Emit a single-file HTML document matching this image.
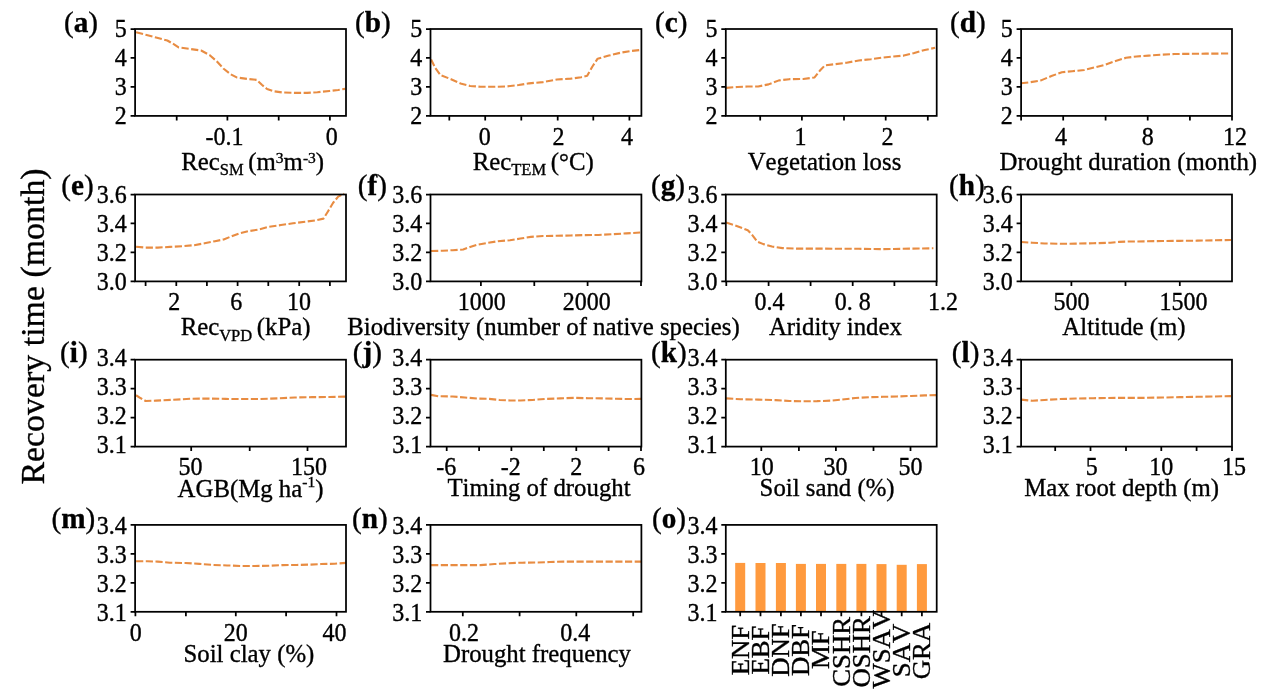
<!DOCTYPE html>
<html lang="en">
<head>
<meta charset="utf-8">
<title>Partial dependence of recovery time on drivers</title>
<style>
html,body{margin:0;padding:0;background:#fff;}
body{width:1268px;height:696px;overflow:hidden;font-family:"Liberation Serif","Times New Roman",serif;}
svg{display:block;font-kerning:none;}
svg text{stroke:#000;stroke-width:.35px;stroke-linejoin:round;}
</style>
</head>
<body>
<svg width="1268" height="696" viewBox="0 0 1268 696" font-family="'Liberation Serif', 'Times New Roman', serif" fill="#000">
<rect width="1268" height="696" fill="#fff"/>
<text transform="translate(43.9,326.5) rotate(-90)" text-anchor="middle" font-size="33.9">Recovery time (month)</text>
<g id="panel-a">
<path d="M136.07 32.33 L145.61 34.76 L156.02 37.53 L167.3 40.48 L172.51 43.43 L178.58 47.42 L188.99 48.81 L201.13 50.54 L209.81 55.23 L216.75 61.3 L223.68 68.76 L230.62 74.31 L236.7 77.44 L247.97 79 L256.65 79.86 L261.85 84.72 L267.06 89.06 L274 91.31 L282.67 92.53 L294.82 92.88 L306.96 92.88 L317.37 92.18 L329.51 90.97 L338.19 89.93 L345.13 88.89" fill="none" stroke="#e88c42" stroke-width="2.1" stroke-dasharray="7.2 2.5" stroke-linejoin="round"/>
<path d="M135.1 115.9h-4.5M135.1 86.93h-4.5M135.1 57.97h-4.5M135.1 29h-4.5M176.7 115.9v4.5M227.4 115.9v4.5M278.7 115.9v4.5M329.9 115.9v4.5" stroke="#000" stroke-width="1.75" fill="none"/>
<rect x="135.1" y="29" width="210.9" height="86.9" fill="none" stroke="#000" stroke-width="1.75"/>
<g font-size="24" text-anchor="end">
<text transform="translate(126.8 124.3) scale(1 1.04)">2</text>
<text transform="translate(126.8 95.33) scale(1 1.04)">3</text>
<text transform="translate(126.8 66.37) scale(1 1.04)">4</text>
<text transform="translate(126.8 37.4) scale(1 1.04)">5</text>
</g>
<g font-size="24" text-anchor="middle">
<text transform="translate(224.4 145.05) scale(1 1.04)">-0.1</text>
<text transform="translate(331.7 145.05) scale(1 1.04)">0</text>
</g>
<text x="252.7" y="169.9" font-size="24.8" text-anchor="middle">Rec<tspan dy="5.5" font-size="16.5">SM</tspan><tspan dy="-5.5" dx="-1.6"> (m</tspan><tspan dy="-7.3" font-size="15.5">3</tspan><tspan dy="7.3">m</tspan><tspan dy="-7.3" font-size="15.5">-3</tspan><tspan dy="7.3">)</tspan></text>
<text x="64" y="31.5" font-size="29.2">(<tspan font-weight="bold">a</tspan>)</text>
</g>
<g id="panel-b">
<path d="M431.07 59.57 L435.41 68.24 L440.61 75.18 L451.02 79.17 L461.43 83.85 L470.11 85.94 L480.52 86.8 L494.4 86.8 L506.54 86.46 L518.68 85.07 L529.09 83.33 L542.97 82.12 L556.85 79.52 L570.73 78.65 L581.14 77.26 L587.21 75.7 L592.42 66.51 L597.62 58.7 L608.9 55.58 L621.04 52.63 L631.45 50.89 L640.13 50.02" fill="none" stroke="#e88c42" stroke-width="2.1" stroke-dasharray="7.2 2.5" stroke-linejoin="round"/>
<path d="M430.5 115.9h-4.5M430.5 86.93h-4.5M430.5 57.97h-4.5M430.5 29h-4.5M449.3 115.9v4.5M485.2 115.9v4.5M521.3 115.9v4.5M557.7 115.9v4.5M593.3 115.9v4.5M629.4 115.9v4.5" stroke="#000" stroke-width="1.75" fill="none"/>
<rect x="430.5" y="29" width="210.9" height="86.9" fill="none" stroke="#000" stroke-width="1.75"/>
<g font-size="24" text-anchor="end">
<text transform="translate(422.2 124.3) scale(1 1.04)">2</text>
<text transform="translate(422.2 95.33) scale(1 1.04)">3</text>
<text transform="translate(422.2 66.37) scale(1 1.04)">4</text>
<text transform="translate(422.2 37.4) scale(1 1.04)">5</text>
</g>
<g font-size="24" text-anchor="middle">
<text transform="translate(484.7 145.05) scale(1 1.04)">0</text>
<text transform="translate(558.6 145.05) scale(1 1.04)">2</text>
<text transform="translate(627 145.05) scale(1 1.04)">4</text>
</g>
<text x="533.2" y="169.9" font-size="24.8" text-anchor="middle">Rec<tspan dy="5.5" font-size="16.5">TEM</tspan><tspan dy="-5.5" dx="-1.6"> (°C)</tspan></text>
<text x="355" y="31.5" font-size="29.2">(<tspan font-weight="bold">b</tspan>)</text>
</g>
<g id="panel-c">
<path d="M726.07 87.84 L737.35 86.98 L747.76 86.46 L758.17 86.46 L768.58 84.37 L778.99 80.38 L789.4 79.17 L803.28 79 L814.55 77.44 L819.76 70.84 L824.96 65.29 L834.5 64.25 L846.65 62.69 L858.79 60.43 L870.94 59.22 L883.08 57.48 L893.49 56.44 L903.9 55.58 L914.31 52.97 L924.72 50.02 L935.13 47.77" fill="none" stroke="#e88c42" stroke-width="2.1" stroke-dasharray="7.2 2.5" stroke-linejoin="round"/>
<path d="M725.8 115.9h-4.5M725.8 86.93h-4.5M725.8 57.97h-4.5M725.8 29h-4.5M760.2 115.9v4.5M801.9 115.9v4.5M844 115.9v4.5M885.7 115.9v4.5M927.8 115.9v4.5" stroke="#000" stroke-width="1.75" fill="none"/>
<rect x="725.8" y="29" width="210.9" height="86.9" fill="none" stroke="#000" stroke-width="1.75"/>
<g font-size="24" text-anchor="end">
<text transform="translate(717.5 124.3) scale(1 1.04)">2</text>
<text transform="translate(717.5 95.33) scale(1 1.04)">3</text>
<text transform="translate(717.5 66.37) scale(1 1.04)">4</text>
<text transform="translate(717.5 37.4) scale(1 1.04)">5</text>
</g>
<g font-size="24" text-anchor="middle">
<text transform="translate(800.6 145.05) scale(1 1.04)">1</text>
<text transform="translate(887.4 145.05) scale(1 1.04)">2</text>
</g>
<text x="824.5" y="169.9" font-size="24.8" text-anchor="middle">Vegetation loss</text>
<text x="655" y="31.5" font-size="29.2">(<tspan font-weight="bold">c</tspan>)</text>
</g>
<g id="panel-d">
<path d="M1021.1 83.33 L1030.61 82.12 L1041.02 80.38 L1051.43 76.05 L1061.84 72.23 L1072.25 71.19 L1084.4 69.98 L1094.81 67.37 L1105.22 64.77 L1115.62 60.95 L1126.03 57.83 L1136.44 56.44 L1148.59 55.58 L1160.73 54.71 L1174.61 54.01 L1188.49 53.84 L1205.84 53.67 L1230.13 53.49" fill="none" stroke="#e88c42" stroke-width="2.1" stroke-dasharray="7.2 2.5" stroke-linejoin="round"/>
<path d="M1021.1 115.9h-4.5M1021.1 86.93h-4.5M1021.1 57.97h-4.5M1021.1 29h-4.5M1021.1 115.9v4.5M1063.2 115.9v4.5M1105.6 115.9v4.5M1147.7 115.9v4.5M1189.9 115.9v4.5M1232 115.9v4.5" stroke="#000" stroke-width="1.75" fill="none"/>
<rect x="1021.1" y="29" width="210.9" height="86.9" fill="none" stroke="#000" stroke-width="1.75"/>
<g font-size="24" text-anchor="end">
<text transform="translate(1012.8 124.3) scale(1 1.04)">2</text>
<text transform="translate(1012.8 95.33) scale(1 1.04)">3</text>
<text transform="translate(1012.8 66.37) scale(1 1.04)">4</text>
<text transform="translate(1012.8 37.4) scale(1 1.04)">5</text>
</g>
<g font-size="24" text-anchor="middle">
<text transform="translate(1060.9 145.05) scale(1 1.04)">4</text>
<text transform="translate(1147.7 145.05) scale(1 1.04)">8</text>
<text transform="translate(1235 145.05) scale(1 1.04)">12</text>
</g>
<text x="1128.3" y="169.9" font-size="24.8" text-anchor="middle">Drought duration (month)</text>
<text x="950" y="31.5" font-size="29.2">(<tspan font-weight="bold">d</tspan>)</text>
</g>
<g id="panel-e">
<path d="M136.07 246.73 L145.61 247.6 L157.76 247.6 L169.9 246.9 L182.05 246.21 L194.19 245.17 L204.6 243.26 L215.01 241.18 L223.68 239.44 L232.36 235.98 L239.3 233.37 L247.97 231.29 L258.38 229.56 L268.79 226.78 L280.94 225.05 L293.08 223.31 L305.23 221.75 L315.63 220.36 L323.44 218.63 L327.78 211.69 L332.98 203.01 L338.19 196.59 L344.26 193.82" fill="none" stroke="#e88c42" stroke-width="2.1" stroke-dasharray="7.2 2.5" stroke-linejoin="round"/>
<path d="M135.1 281.4h-4.5M135.1 252.43h-4.5M135.1 223.47h-4.5M135.1 194.5h-4.5M145.6 281.4v4.5M176.3 281.4v4.5M206.9 281.4v4.5M237.6 281.4v4.5M268.3 281.4v4.5M299.2 281.4v4.5M329.9 281.4v4.5" stroke="#000" stroke-width="1.75" fill="none"/>
<rect x="135.1" y="194.5" width="210.9" height="86.9" fill="none" stroke="#000" stroke-width="1.75"/>
<g font-size="24" text-anchor="end">
<text transform="translate(126.8 289.7) scale(1 1.04)">3.0</text>
<text transform="translate(126.8 260.73) scale(1 1.04)">3.2</text>
<text transform="translate(126.8 231.77) scale(1 1.04)">3.4</text>
<text transform="translate(126.8 202.8) scale(1 1.04)">3.6</text>
</g>
<g font-size="24" text-anchor="middle">
<text transform="translate(174.2 310.15) scale(1 1.04)">2</text>
<text transform="translate(236.3 310.15) scale(1 1.04)">6</text>
<text transform="translate(298.9 310.15) scale(1 1.04)">10</text>
</g>
<text x="245.6" y="335.4" font-size="24.8" text-anchor="middle">Rec<tspan dy="5.5" font-size="16.5">VPD</tspan><tspan dy="-5.5" dx="-1.6"> (kPa)</tspan></text>
<text x="61.3" y="194.9" font-size="29.2">(<tspan font-weight="bold">e</tspan>)</text>
</g>
<g id="panel-f">
<path d="M431.07 251.07 L442.35 250.72 L452.76 250.2 L463.17 249.51 L470.11 246.9 L477.05 244.82 L487.46 242.91 L497.87 241.18 L510.01 240.31 L520.42 238.58 L530.83 236.84 L542.97 235.98 L556.85 235.8 L570.73 235.45 L584.61 235.11 L598.49 234.93 L612.37 234.24 L626.25 233.37 L640.13 232.51" fill="none" stroke="#e88c42" stroke-width="2.1" stroke-dasharray="7.2 2.5" stroke-linejoin="round"/>
<path d="M430.5 281.4h-4.5M430.5 252.43h-4.5M430.5 223.47h-4.5M430.5 194.5h-4.5M480.9 281.4v4.5M534.3 281.4v4.5M587.6 281.4v4.5M641 281.4v4.5" stroke="#000" stroke-width="1.75" fill="none"/>
<rect x="430.5" y="194.5" width="210.9" height="86.9" fill="none" stroke="#000" stroke-width="1.75"/>
<g font-size="24" text-anchor="end">
<text transform="translate(422.2 289.7) scale(1 1.04)">3.0</text>
<text transform="translate(422.2 260.73) scale(1 1.04)">3.2</text>
<text transform="translate(422.2 231.77) scale(1 1.04)">3.4</text>
<text transform="translate(422.2 202.8) scale(1 1.04)">3.6</text>
</g>
<g font-size="24" text-anchor="middle">
<text transform="translate(481.8 310.15) scale(1 1.04)">1000</text>
<text transform="translate(586.7 310.15) scale(1 1.04)">2000</text>
</g>
<text x="543.5" y="335.4" font-size="24.8" text-anchor="middle">Biodiversity (number of native species)</text>
<text x="357.8" y="194.9" font-size="29.2">(<tspan font-weight="bold">f</tspan>)</text>
</g>
<g id="panel-g">
<path d="M726.07 222.62 L733.88 225.05 L742.55 228.17 L747.76 230.25 L752.1 234.76 L757.3 241.7 L763.37 244.13 L772.05 246.56 L782.46 248.12 L796.34 248.64 L824.09 248.64 L858.79 248.81 L881.35 249.16 L893.49 248.99 L910.84 248.64 L933.39 248.29" fill="none" stroke="#e88c42" stroke-width="2.1" stroke-dasharray="7.2 2.5" stroke-linejoin="round"/>
<path d="M725.8 281.4h-4.5M725.8 252.43h-4.5M725.8 223.47h-4.5M725.8 194.5h-4.5M726.3 281.4v4.5M768.6 281.4v4.5M810.6 281.4v4.5M852.7 281.4v4.5M894.4 281.4v4.5M936.5 281.4v4.5" stroke="#000" stroke-width="1.75" fill="none"/>
<rect x="725.8" y="194.5" width="210.9" height="86.9" fill="none" stroke="#000" stroke-width="1.75"/>
<g font-size="24" text-anchor="end">
<text transform="translate(717.5 289.7) scale(1 1.04)">3.0</text>
<text transform="translate(717.5 260.73) scale(1 1.04)">3.2</text>
<text transform="translate(717.5 231.77) scale(1 1.04)">3.4</text>
<text transform="translate(717.5 202.8) scale(1 1.04)">3.6</text>
</g>
<g font-size="24" text-anchor="middle">
<text transform="translate(769.5 310.15) scale(1 1.04)">0.4</text>
<text transform="translate(852.7 310.15) scale(1 1.04)">0. 8</text>
<text transform="translate(943.1 310.15) scale(1 1.04)">1.2</text>
</g>
<text x="835.4" y="335.4" font-size="24.8" text-anchor="middle">Aridity index</text>
<text x="651" y="194.9" font-size="29.2">(<tspan font-weight="bold">g</tspan>)</text>
</g>
<g id="panel-h">
<path d="M1021.1 242.05 L1032.35 242.74 L1044.49 243.44 L1060.11 243.78 L1075.72 243.61 L1093.07 243.26 L1110.42 242.74 L1119.09 241.87 L1127.77 241.53 L1145.12 241.35 L1162.47 241.01 L1179.82 240.83 L1197.17 240.66 L1214.51 240.31 L1231 239.97" fill="none" stroke="#e88c42" stroke-width="2.1" stroke-dasharray="7.2 2.5" stroke-linejoin="round"/>
<path d="M1021.1 281.4h-4.5M1021.1 252.43h-4.5M1021.1 223.47h-4.5M1021.1 194.5h-4.5M1071.4 281.4v4.5M1125.5 281.4v4.5M1179.8 281.4v4.5" stroke="#000" stroke-width="1.75" fill="none"/>
<rect x="1021.1" y="194.5" width="210.9" height="86.9" fill="none" stroke="#000" stroke-width="1.75"/>
<g font-size="24" text-anchor="end">
<text transform="translate(1012.8 289.7) scale(1 1.04)">3.0</text>
<text transform="translate(1012.8 260.73) scale(1 1.04)">3.2</text>
<text transform="translate(1012.8 231.77) scale(1 1.04)">3.4</text>
<text transform="translate(1012.8 202.8) scale(1 1.04)">3.6</text>
</g>
<g font-size="24" text-anchor="middle">
<text transform="translate(1071.4 310.15) scale(1 1.04)">500</text>
<text transform="translate(1183.6 310.15) scale(1 1.04)">1500</text>
</g>
<text x="1124" y="335.4" font-size="24.8" text-anchor="middle">Altitude (m)</text>
<text x="949" y="194.9" font-size="29.2">(<tspan font-weight="bold">h</tspan>)</text>
</g>
<g id="panel-i">
<path d="M136.07 395.25 L140.41 398.03 L145.61 400.98 L156.02 400.63 L173.37 399.76 L190.72 398.72 L208.07 398.55 L225.42 398.89 L242.77 399.07 L260.12 399.07 L277.47 398.37 L294.82 397.51 L312.17 397.16 L329.51 396.98 L346 396.64" fill="none" stroke="#e88c42" stroke-width="2.1" stroke-dasharray="7.2 2.5" stroke-linejoin="round"/>
<path d="M135.1 446.6h-4.5M135.1 417.63h-4.5M135.1 388.67h-4.5M135.1 359.7h-4.5M191.2 446.6v4.5M249.7 446.6v4.5M307.5 446.6v4.5" stroke="#000" stroke-width="1.75" fill="none"/>
<rect x="135.1" y="359.7" width="210.9" height="86.9" fill="none" stroke="#000" stroke-width="1.75"/>
<g font-size="24" text-anchor="end">
<text transform="translate(126.8 453.3) scale(1 1.04)">3.1</text>
<text transform="translate(126.8 424.33) scale(1 1.04)">3.2</text>
<text transform="translate(126.8 395.37) scale(1 1.04)">3.3</text>
<text transform="translate(126.8 366.4) scale(1 1.04)">3.4</text>
</g>
<g font-size="24" text-anchor="middle">
<text transform="translate(190.6 474.75) scale(1 1.04)">50</text>
<text transform="translate(309 474.75) scale(1 1.04)">150</text>
</g>
<text x="250.5" y="496.9" font-size="24.8" text-anchor="middle">AGB(Mg ha<tspan dy="-9.6" font-size="15.5">-1</tspan><tspan dy="9.6">)</tspan></text>
<text x="60.1" y="361.8" font-size="29.2">(<tspan font-weight="bold">i</tspan>)</text>
</g>
<g id="panel-j">
<path d="M431.07 394.9 L438.88 396.29 L452.76 396.46 L464.9 397.51 L477.05 398.55 L489.19 398.89 L499.6 399.93 L510.01 400.45 L520.42 400.45 L532.56 399.93 L546.44 398.89 L560.32 398.37 L574.2 397.85 L588.08 398.2 L601.96 398.37 L615.84 398.72 L629.72 399.07 L641 398.89" fill="none" stroke="#e88c42" stroke-width="2.1" stroke-dasharray="7.2 2.5" stroke-linejoin="round"/>
<path d="M430.5 446.6h-4.5M430.5 417.63h-4.5M430.5 388.67h-4.5M430.5 359.7h-4.5M446.7 446.6v4.5M479.1 446.6v4.5M511.4 446.6v4.5M543.8 446.6v4.5M576.3 446.6v4.5M608.6 446.6v4.5M641 446.6v4.5" stroke="#000" stroke-width="1.75" fill="none"/>
<rect x="430.5" y="359.7" width="210.9" height="86.9" fill="none" stroke="#000" stroke-width="1.75"/>
<g font-size="24" text-anchor="end">
<text transform="translate(422.2 453.3) scale(1 1.04)">3.1</text>
<text transform="translate(422.2 424.33) scale(1 1.04)">3.2</text>
<text transform="translate(422.2 395.37) scale(1 1.04)">3.3</text>
<text transform="translate(422.2 366.4) scale(1 1.04)">3.4</text>
</g>
<g font-size="24" text-anchor="middle">
<text transform="translate(446.2 474.75) scale(1 1.04)">-6</text>
<text transform="translate(510.65 474.75) scale(1 1.04)">-2</text>
<text transform="translate(576.3 474.75) scale(1 1.04)">2</text>
<text transform="translate(639.1 474.75) scale(1 1.04)">6</text>
</g>
<text x="539" y="496.3" font-size="24.8" text-anchor="middle">Timing of drought</text>
<text x="352.7" y="361.8" font-size="29.2">(<tspan font-weight="bold">j</tspan>)</text>
</g>
<g id="panel-k">
<path d="M726.07 398.37 L740.82 399.24 L758.17 399.59 L775.52 400.11 L789.4 400.98 L803.28 401.32 L817.15 401.15 L831.03 400.63 L841.44 399.59 L855.32 398.03 L869.2 397.16 L883.08 396.81 L896.96 396.46 L910.84 395.94 L924.72 395.42 L936 395.08" fill="none" stroke="#e88c42" stroke-width="2.1" stroke-dasharray="7.2 2.5" stroke-linejoin="round"/>
<path d="M725.8 446.6h-4.5M725.8 417.63h-4.5M725.8 388.67h-4.5M725.8 359.7h-4.5M761.3 446.6v4.5M798.9 446.6v4.5M835.9 446.6v4.5M873.5 446.6v4.5M910.5 446.6v4.5" stroke="#000" stroke-width="1.75" fill="none"/>
<rect x="725.8" y="359.7" width="210.9" height="86.9" fill="none" stroke="#000" stroke-width="1.75"/>
<g font-size="24" text-anchor="end">
<text transform="translate(717.5 453.3) scale(1 1.04)">3.1</text>
<text transform="translate(717.5 424.33) scale(1 1.04)">3.2</text>
<text transform="translate(717.5 395.37) scale(1 1.04)">3.3</text>
<text transform="translate(717.5 366.4) scale(1 1.04)">3.4</text>
</g>
<g font-size="24" text-anchor="middle">
<text transform="translate(761.7 474.75) scale(1 1.04)">10</text>
<text transform="translate(835.5 474.75) scale(1 1.04)">30</text>
<text transform="translate(910.5 474.75) scale(1 1.04)">50</text>
</g>
<text x="827.1" y="496.3" font-size="24.8" text-anchor="middle">Soil sand (%)</text>
<text x="651" y="361.8" font-size="29.2">(<tspan font-weight="bold">k</tspan>)</text>
</g>
<g id="panel-l">
<path d="M1021.1 399.59 L1032.35 400.8 L1044.49 399.93 L1060.11 399.07 L1075.72 398.55 L1093.07 398.2 L1119.09 397.85 L1145.12 397.85 L1162.47 397.51 L1179.82 397.16 L1197.17 396.81 L1214.51 396.46 L1231 396.12" fill="none" stroke="#e88c42" stroke-width="2.1" stroke-dasharray="7.2 2.5" stroke-linejoin="round"/>
<path d="M1021.1 446.6h-4.5M1021.1 417.63h-4.5M1021.1 388.67h-4.5M1021.1 359.7h-4.5M1055.2 446.6v4.5M1090.5 446.6v4.5M1126 446.6v4.5M1161.3 446.6v4.5M1196.6 446.6v4.5M1232 446.6v4.5" stroke="#000" stroke-width="1.75" fill="none"/>
<rect x="1021.1" y="359.7" width="210.9" height="86.9" fill="none" stroke="#000" stroke-width="1.75"/>
<g font-size="24" text-anchor="end">
<text transform="translate(1012.8 453.3) scale(1 1.04)">3.1</text>
<text transform="translate(1012.8 424.33) scale(1 1.04)">3.2</text>
<text transform="translate(1012.8 395.37) scale(1 1.04)">3.3</text>
<text transform="translate(1012.8 366.4) scale(1 1.04)">3.4</text>
</g>
<g font-size="24" text-anchor="middle">
<text transform="translate(1091.8 474.75) scale(1 1.04)">5</text>
<text transform="translate(1161.3 474.75) scale(1 1.04)">10</text>
<text transform="translate(1234.1 474.75) scale(1 1.04)">15</text>
</g>
<text x="1121.6" y="496.3" font-size="24.8" text-anchor="middle">Max root depth (m)</text>
<text x="951.8" y="361.8" font-size="29.2">(<tspan font-weight="bold">l</tspan>)</text>
</g>
<g id="panel-m">
<path d="M136.07 561.29 L147.35 561.29 L157.76 561.64 L169.9 562.68 L185.52 563.03 L199.4 563.89 L213.28 564.93 L227.15 565.45 L241.03 565.98 L254.91 565.98 L268.79 565.8 L282.67 565.11 L296.55 564.93 L310.43 564.59 L320.84 564.07 L334.72 563.72 L346 562.85" fill="none" stroke="#e88c42" stroke-width="2.1" stroke-dasharray="7.2 2.5" stroke-linejoin="round"/>
<path d="M135.1 611.8h-4.5M135.1 582.83h-4.5M135.1 553.87h-4.5M135.1 524.9h-4.5M135.4 611.8v4.5M185.9 611.8v4.5M235.8 611.8v4.5M286.1 611.8v4.5M336.5 611.8v4.5" stroke="#000" stroke-width="1.75" fill="none"/>
<rect x="135.1" y="524.9" width="210.9" height="86.9" fill="none" stroke="#000" stroke-width="1.75"/>
<g font-size="24" text-anchor="end">
<text transform="translate(126.8 620.8) scale(1 1.04)">3.1</text>
<text transform="translate(126.8 591.83) scale(1 1.04)">3.2</text>
<text transform="translate(126.8 562.87) scale(1 1.04)">3.3</text>
<text transform="translate(126.8 533.9) scale(1 1.04)">3.4</text>
</g>
<g font-size="24" text-anchor="middle">
<text transform="translate(135.8 640.95) scale(1 1.04)">0</text>
<text transform="translate(235.8 640.95) scale(1 1.04)">20</text>
<text transform="translate(334.6 640.95) scale(1 1.04)">40</text>
</g>
<text x="248.9" y="662.4" font-size="24.8" text-anchor="middle">Soil clay (%)</text>
<text x="51.5" y="528.4" font-size="29.2">(<tspan font-weight="bold">m</tspan>)</text>
</g>
<g id="panel-n">
<path d="M431.07 565.11 L445.82 565.11 L463.17 565.11 L480.52 565.11 L494.4 564.07 L508.28 563.2 L522.15 562.68 L537.77 562.51 L549.91 561.98 L563.79 561.64 L581.14 561.64 L598.49 561.64 L615.84 561.64 L641 561.64" fill="none" stroke="#e88c42" stroke-width="2.1" stroke-dasharray="7.2 2.5" stroke-linejoin="round"/>
<path d="M430.5 611.8h-4.5M430.5 582.83h-4.5M430.5 553.87h-4.5M430.5 524.9h-4.5M462.8 611.8v4.5M519.6 611.8v4.5M576.3 611.8v4.5M633.2 611.8v4.5" stroke="#000" stroke-width="1.75" fill="none"/>
<rect x="430.5" y="524.9" width="210.9" height="86.9" fill="none" stroke="#000" stroke-width="1.75"/>
<g font-size="24" text-anchor="end">
<text transform="translate(422.2 620.8) scale(1 1.04)">3.1</text>
<text transform="translate(422.2 591.83) scale(1 1.04)">3.2</text>
<text transform="translate(422.2 562.87) scale(1 1.04)">3.3</text>
<text transform="translate(422.2 533.9) scale(1 1.04)">3.4</text>
</g>
<g font-size="24" text-anchor="middle">
<text transform="translate(464.1 640.95) scale(1 1.04)">0.2</text>
<text transform="translate(575.3 640.95) scale(1 1.04)">0.4</text>
</g>
<text x="537" y="662.4" font-size="24.8" text-anchor="middle">Drought frequency</text>
<text x="352" y="528.4" font-size="29.2">(<tspan font-weight="bold">n</tspan>)</text>
</g>
<g id="panel-o">
<rect x="735.2" y="562.9" width="10" height="48.9" fill="#ff9a3e"/>
<rect x="755.5" y="563" width="10" height="48.8" fill="#ff9a3e"/>
<rect x="775.9" y="563" width="10" height="48.8" fill="#ff9a3e"/>
<rect x="795.9" y="563.9" width="10" height="47.9" fill="#ff9a3e"/>
<rect x="816" y="563.9" width="10" height="47.9" fill="#ff9a3e"/>
<rect x="836.3" y="563.9" width="10" height="47.9" fill="#ff9a3e"/>
<rect x="856.4" y="563.9" width="10" height="47.9" fill="#ff9a3e"/>
<rect x="876.5" y="564.1" width="10" height="47.7" fill="#ff9a3e"/>
<rect x="896.7" y="564.8" width="10" height="47" fill="#ff9a3e"/>
<rect x="916.9" y="564.1" width="10" height="47.7" fill="#ff9a3e"/>
<path d="M725.8 611.8h-4.5M725.8 582.83h-4.5M725.8 553.87h-4.5M725.8 524.9h-4.5M740.2 611.8v4.5M760.5 611.8v4.5M780.9 611.8v4.5M800.9 611.8v4.5M821 611.8v4.5M841.3 611.8v4.5M861.4 611.8v4.5M881.5 611.8v4.5M901.7 611.8v4.5M921.9 611.8v4.5" stroke="#000" stroke-width="1.75" fill="none"/>
<rect x="725.8" y="524.9" width="210.9" height="86.9" fill="none" stroke="#000" stroke-width="1.75"/>
<g font-size="24" text-anchor="end">
<text transform="translate(717.5 620.8) scale(1 1.04)">3.1</text>
<text transform="translate(717.5 591.83) scale(1 1.04)">3.2</text>
<text transform="translate(717.5 562.87) scale(1 1.04)">3.3</text>
<text transform="translate(717.5 533.9) scale(1 1.04)">3.4</text>
</g>
<g font-size="24" text-anchor="middle">
</g>
<g font-size="25" text-anchor="middle">
<text transform="translate(748.5 650.1) rotate(-90) scale(1.07 1)">ENF</text>
<text transform="translate(768.8 650.1) rotate(-90) scale(1.07 1)">EBF</text>
<text transform="translate(789.2 650.1) rotate(-90) scale(1.07 1)">DNF</text>
<text transform="translate(809.2 650.1) rotate(-90) scale(1.07 1)">DBF</text>
<text transform="translate(829.3 649.7) rotate(-90) scale(1.07 1)">MF</text>
<text transform="translate(849.6 651.8) rotate(-90) scale(1.07 1)">CSHR</text>
<text transform="translate(869.7 651.8) rotate(-90) scale(1.07 1)">OSHR</text>
<text transform="translate(889.8 649.2) rotate(-90) scale(1.07 1)">WSAV</text>
<text transform="translate(910 650.5) rotate(-90) scale(1.07 1)">SAV</text>
<text transform="translate(930.2 651) rotate(-90) scale(1.07 1)">GRA</text>
</g>
<text x="652" y="528.4" font-size="29.2">(<tspan font-weight="bold">o</tspan>)</text>
</g>
</svg>
</body>
</html>
